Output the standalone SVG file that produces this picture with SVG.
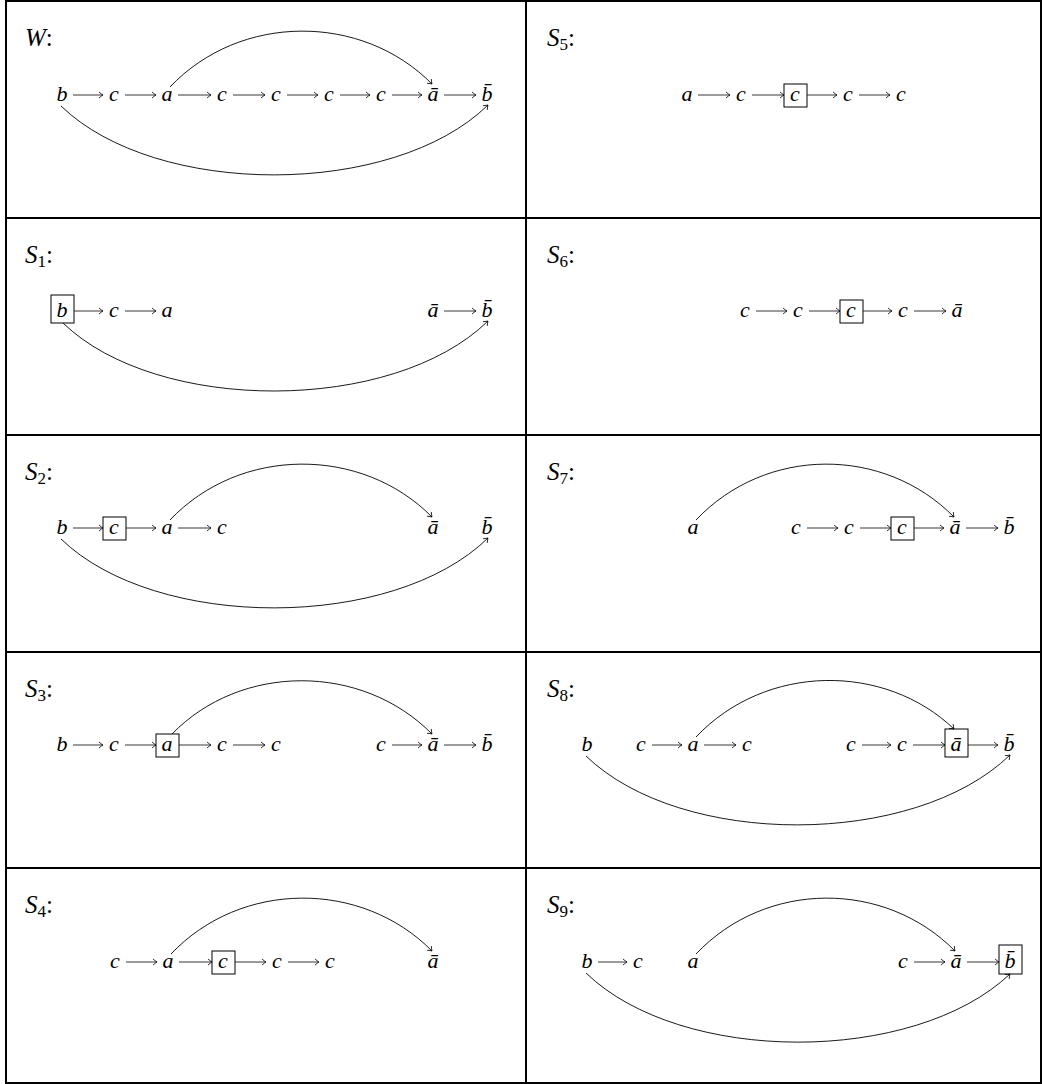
<svg xmlns="http://www.w3.org/2000/svg" width="1042" height="1084" viewBox="0 0 1042 1084">
<style>
.grid{stroke:#000;stroke-width:2;fill:none}
.lbl{font-family:"Liberation Serif",serif;font-size:25px;fill:#000}
.it{font-style:italic}
.sub{font-size:17px;font-style:normal}
.n{font-family:"Liberation Serif",serif;font-style:italic;font-size:22px;fill:#000;text-anchor:middle}
.box{fill:none;stroke:#000;stroke-width:1}
.ar{fill:none;stroke:#222;stroke-width:0.9;marker-end:url(#ah)}
.cv{fill:none;stroke:#000;stroke-width:0.9;marker-end:url(#ah)}
</style>
<defs>
<marker id="ah" markerUnits="userSpaceOnUse" viewBox="-5 -4 6 8" refX="0" refY="0" markerWidth="6" markerHeight="8" orient="auto">
<path d="M-4,-3 Q-1.5,-0.8 0,0 Q-1.5,0.8 -4,3" fill="none" stroke="#000" stroke-width="0.8"/>
</marker>
</defs>
<rect width="1042" height="1084" fill="#fff"/>
<g id="table">
<rect class="grid" x="6" y="1" width="1035" height="1082"/>
<line class="grid" x1="526" y1="1" x2="526" y2="1083"/>
<line class="grid" x1="6" y1="218" x2="1041" y2="218"/>
<line class="grid" x1="6" y1="435" x2="1041" y2="435"/>
<line class="grid" x1="6" y1="652" x2="1041" y2="652"/>
<line class="grid" x1="6" y1="868" x2="1041" y2="868"/>
</g>

<!-- W -->
<g id="panel-W">
<text class="lbl" x="25" y="46"><tspan class="it">W</tspan>:</text>
<g id="W-b"><text class="n" x="62" y="101">b</text></g>
<g id="W-c1"><text class="n" x="114" y="101">c</text></g>
<g id="W-a"><text class="n" x="167" y="101">a</text></g>
<g id="W-c2"><text class="n" x="222" y="101">c</text></g>
<g id="W-c3"><text class="n" x="276" y="101">c</text></g>
<g id="W-c4"><text class="n" x="329" y="101">c</text></g>
<g id="W-c5"><text class="n" x="381" y="101">c</text></g>
<g id="W-abar"><text class="n" x="433" y="101">ā</text></g>
<g id="W-bbar"><text class="n" x="487" y="101">b̄</text></g>
<g id="W-edges">
<path class="ar" d="M73,95H103"/><path class="ar" d="M125,95H156"/><path class="ar" d="M178,95H211"/><path class="ar" d="M233,95H265"/>
<path class="ar" d="M287,95H318"/><path class="ar" d="M340,95H370"/><path class="ar" d="M392,95H422"/><path class="ar" d="M444,95H476"/>
<path class="cv" d="M170,87C240,13 362,13 432,84"/>
<path class="cv" d="M61,106C156,198 393,198 488,105"/>
</g>
</g>

<!-- S1 -->
<g id="panel-S1">
<text class="lbl" x="25" y="263"><tspan class="it">S</tspan><tspan class="sub" dy="4">1</tspan><tspan dy="-4">:</tspan></text>
<g id="S1-b"><rect class="box" x="51" y="295" width="23" height="28"/><text class="n" x="62" y="317">b</text></g>
<g id="S1-c"><text class="n" x="114" y="317">c</text></g>
<g id="S1-a"><text class="n" x="167" y="317">a</text></g>
<g id="S1-abar"><text class="n" x="433" y="317">ā</text></g>
<g id="S1-bbar"><text class="n" x="487" y="317">b̄</text></g>
<g id="S1-edges">
<path class="ar" d="M74,311H103"/><path class="ar" d="M125,311H156"/><path class="ar" d="M444,311H476"/>
<path class="cv" d="M63,323C157,414 393,414 488,321"/>
</g>
</g>

<!-- S2 -->
<g id="panel-S2">
<text class="lbl" x="25" y="480"><tspan class="it">S</tspan><tspan class="sub" dy="4">2</tspan><tspan dy="-4">:</tspan></text>
<g id="S2-b"><text class="n" x="62" y="534">b</text></g>
<g id="S2-c1"><rect class="box" x="103" y="517" width="23" height="23"/><text class="n" x="114" y="534">c</text></g>
<g id="S2-a"><text class="n" x="167" y="534">a</text></g>
<g id="S2-c2"><text class="n" x="222" y="534">c</text></g>
<g id="S2-abar"><text class="n" x="433" y="534">ā</text></g>
<g id="S2-bbar"><text class="n" x="487" y="534">b̄</text></g>
<g id="S2-edges">
<path class="ar" d="M73,528H103"/><path class="ar" d="M126,528H156"/><path class="ar" d="M178,528H211"/>
<path class="cv" d="M170,520C240,446 362,446 432,517"/>
<path class="cv" d="M61,539C156,631 393,631 488,538"/>
</g>
</g>

<!-- S3 -->
<g id="panel-S3">
<text class="lbl" x="25" y="697"><tspan class="it">S</tspan><tspan class="sub" dy="4">3</tspan><tspan dy="-4">:</tspan></text>
<g id="S3-b"><text class="n" x="62" y="751">b</text></g>
<g id="S3-c1"><text class="n" x="114" y="751">c</text></g>
<g id="S3-a"><rect class="box" x="156" y="734" width="23" height="23"/><text class="n" x="167" y="751">a</text></g>
<g id="S3-c2"><text class="n" x="222" y="751">c</text></g>
<g id="S3-c3"><text class="n" x="276" y="751">c</text></g>
<g id="S3-c4"><text class="n" x="381" y="751">c</text></g>
<g id="S3-abar"><text class="n" x="433" y="751">ā</text></g>
<g id="S3-bbar"><text class="n" x="487" y="751">b̄</text></g>
<g id="S3-edges">
<path class="ar" d="M73,745H103"/><path class="ar" d="M125,745H156"/><path class="ar" d="M179,745H211"/><path class="ar" d="M233,745H265"/>
<path class="ar" d="M392,745H422"/><path class="ar" d="M444,745H476"/>
<path class="cv" d="M172,734C241,663 362,663 432,734"/>
</g>
</g>

<!-- S4 -->
<g id="panel-S4">
<text class="lbl" x="25" y="913"><tspan class="it">S</tspan><tspan class="sub" dy="4">4</tspan><tspan dy="-4">:</tspan></text>
<g id="S4-c1"><text class="n" x="115" y="968">c</text></g>
<g id="S4-a"><text class="n" x="168" y="968">a</text></g>
<g id="S4-c2"><rect class="box" x="212" y="951" width="23" height="23"/><text class="n" x="223" y="968">c</text></g>
<g id="S4-c3"><text class="n" x="277" y="968">c</text></g>
<g id="S4-c4"><text class="n" x="330" y="968">c</text></g>
<g id="S4-abar"><text class="n" x="433" y="968">ā</text></g>
<g id="S4-edges">
<path class="ar" d="M126,962H157"/><path class="ar" d="M179,962H212"/><path class="ar" d="M235,962H266"/><path class="ar" d="M288,962H319"/>
<path class="cv" d="M171,954C241,880 362,880 432,951"/>
</g>
</g>

<!-- S5 -->
<g id="panel-S5">
<text class="lbl" x="547" y="46"><tspan class="it">S</tspan><tspan class="sub" dy="4">5</tspan><tspan dy="-4">:</tspan></text>
<g id="S5-a"><text class="n" x="687" y="101">a</text></g>
<g id="S5-c1"><text class="n" x="741" y="101">c</text></g>
<g id="S5-c2"><rect class="box" x="784" y="84" width="23" height="23"/><text class="n" x="795" y="101">c</text></g>
<g id="S5-c3"><text class="n" x="848" y="101">c</text></g>
<g id="S5-c4"><text class="n" x="901" y="101">c</text></g>
<g id="S5-edges">
<path class="ar" d="M698,95H730"/><path class="ar" d="M752,95H784"/><path class="ar" d="M807,95H837"/><path class="ar" d="M859,95H890"/>
</g>
</g>

<!-- S6 -->
<g id="panel-S6">
<text class="lbl" x="547" y="263"><tspan class="it">S</tspan><tspan class="sub" dy="4">6</tspan><tspan dy="-4">:</tspan></text>
<g id="S6-c1"><text class="n" x="745" y="317">c</text></g>
<g id="S6-c2"><text class="n" x="798" y="317">c</text></g>
<g id="S6-c3"><rect class="box" x="840" y="300" width="23" height="23"/><text class="n" x="851" y="317">c</text></g>
<g id="S6-c4"><text class="n" x="903" y="317">c</text></g>
<g id="S6-abar"><text class="n" x="957" y="317">ā</text></g>
<g id="S6-edges">
<path class="ar" d="M756,311H787"/><path class="ar" d="M809,311H840"/><path class="ar" d="M863,311H892"/><path class="ar" d="M914,311H946"/>
</g>
</g>

<!-- S7 -->
<g id="panel-S7">
<text class="lbl" x="547" y="480"><tspan class="it">S</tspan><tspan class="sub" dy="4">7</tspan><tspan dy="-4">:</tspan></text>
<g id="S7-a"><text class="n" x="693" y="534">a</text></g>
<g id="S7-c1"><text class="n" x="796" y="534">c</text></g>
<g id="S7-c2"><text class="n" x="849" y="534">c</text></g>
<g id="S7-c3"><rect class="box" x="891" y="517" width="23" height="23"/><text class="n" x="902" y="534">c</text></g>
<g id="S7-abar"><text class="n" x="955" y="534">ā</text></g>
<g id="S7-bbar"><text class="n" x="1009" y="534">b̄</text></g>
<g id="S7-edges">
<path class="ar" d="M807,528H838"/><path class="ar" d="M860,528H891"/><path class="ar" d="M914,528H944"/><path class="ar" d="M966,528H998"/>
<path class="cv" d="M696,520C766,446 884,446 954,517"/>
</g>
</g>

<!-- S8 -->
<g id="panel-S8">
<text class="lbl" x="547" y="697"><tspan class="it">S</tspan><tspan class="sub" dy="4">8</tspan><tspan dy="-4">:</tspan></text>
<g id="S8-b"><text class="n" x="587" y="751">b</text></g>
<g id="S8-c1"><text class="n" x="641" y="751">c</text></g>
<g id="S8-a"><text class="n" x="693" y="751">a</text></g>
<g id="S8-c2"><text class="n" x="747" y="751">c</text></g>
<g id="S8-c3"><text class="n" x="851" y="751">c</text></g>
<g id="S8-c4"><text class="n" x="902" y="751">c</text></g>
<g id="S8-abar"><rect class="box" x="945" y="729" width="23" height="28"/><text class="n" x="956" y="751">ā</text></g>
<g id="S8-bbar"><text class="n" x="1009" y="751">b̄</text></g>
<g id="S8-edges">
<path class="ar" d="M652,745H682"/><path class="ar" d="M704,745H736"/><path class="ar" d="M862,745H891"/><path class="ar" d="M913,745H945"/><path class="ar" d="M968,745H998"/>
<path class="cv" d="M696,737C766,663 885,663 954,729"/>
<path class="cv" d="M586,756C681,848 914,848 1010,755"/>
</g>
</g>

<!-- S9 -->
<g id="panel-S9">
<text class="lbl" x="547" y="913"><tspan class="it">S</tspan><tspan class="sub" dy="4">9</tspan><tspan dy="-4">:</tspan></text>
<g id="S9-b"><text class="n" x="587" y="968">b</text></g>
<g id="S9-c1"><text class="n" x="638" y="968">c</text></g>
<g id="S9-a"><text class="n" x="693" y="968">a</text></g>
<g id="S9-c2"><text class="n" x="903" y="968">c</text></g>
<g id="S9-abar"><text class="n" x="956" y="968">ā</text></g>
<g id="S9-bbar"><rect class="box" x="999" y="945" width="23" height="29"/><text class="n" x="1010" y="968">b̄</text></g>
<g id="S9-edges">
<path class="ar" d="M598,962H627"/><path class="ar" d="M914,962H945"/><path class="ar" d="M967,962H999"/>
<path class="cv" d="M696,954C766,880 885,880 955,951"/>
<path class="cv" d="M586,973C681,1065 914,1065 1010,974"/>
</g>
</g>
</svg>
